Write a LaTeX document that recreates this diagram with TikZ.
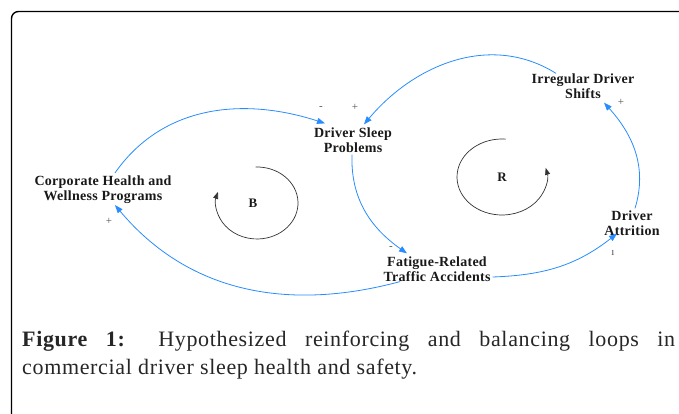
\documentclass[tikz,border=0pt]{standalone}
\usepackage{fontspec}
\setmainfont{Liberation Serif}
\newfontfamily\varfont[LetterSpace=2]{Liberation Serif}
\newfontfamily\capfont[LetterSpace=3]{Liberation Serif}
\usetikzlibrary{arrows.meta,calc}
\definecolor{linkblue}{RGB}{40,140,255}
\definecolor{txt}{RGB}{25,25,25}
\definecolor{polgray}{RGB}{80,80,80}
\begin{document}
\begin{tikzpicture}[x=1pt,y=1pt,
  var/.style={font=\varfont\bfseries\fontsize{14}{15}\selectfont, text=txt, align=center, inner sep=2pt},
  conn/.style={draw=linkblue, line width=0.8pt, -{Triangle[length=8pt,width=6pt]}},
  pol/.style={font=\fontsize{11}{11}\selectfont, text=polgray, inner sep=0pt},
  loopline/.style={draw=black!80, line width=0.7pt, -{Triangle[length=7pt,width=5pt]}},
  looplabel/.style={font=\bfseries\fontsize{13}{13}\selectfont, text=txt, inner sep=1pt}
]
\useasboundingbox (0,0) rectangle (679,414);
\begin{scope}
  \clip (0,0) rectangle (679,414);
  \draw[line width=1.4pt, rounded corners=7pt] (11.5,-30) rectangle (720,402.5);
\end{scope}

% variables
\node[var] (corp) at (103,224) {Corporate Health and\\Wellness Programs};
\node[var] (dsp)  at (353,274) {Driver Sleep\\Problems};
\node[var] (irr)  at (583,328) {Irregular Driver\\Shifts};
\node[var] (attr) at (632,191) {Driver\\Attrition};
\node[var] (fat)  at (437,145) {Fatigue-Related\\Traffic Accidents};

% causal links
\draw[conn] ([shift={(12,1)}]corp.north) to[out=55,in=162] ([shift={(-28,2)}]dsp.north);
\draw[conn] ([shift={(-27,-2)}]irr.north) to[out=148,in=50] ([shift={(11,1)}]dsp.north);
\draw[conn] ([shift={(3,0)}]attr.north) to[out=73,in=-48] ([shift={(21,-2)}]irr.south);
\draw[conn] ([shift={(-1,0)}]dsp.south) to[out=-92,in=145] ([shift={(-30,1)}]fat.north);
\draw[conn] ([yshift=-8]fat.east) to[out=2,in=-142] ([shift={(-15,4)}]attr.south);
\draw[conn] ([shift={(-37,2)}]fat.south) to[out=195,in=-50] ([shift={(12,1)}]corp.south);

% polarity marks
\node[pol] (p1) at (321,306) {-};
\node[pol] (p2) at (355,307) {+};
\node[pol] (p3) at (621,312) {+};
\node[pol] (p4) at (109,193) {+};
\node[pol] (p5) at (613,161) {ı};
\node[pol] (p6) at (391,166) {-};

% loop identifiers
\node[looplabel] (bl) at (253,211) {B};
\node[looplabel] (rl) at (502,237) {R};
\draw[loopline] ([shift={(92:41 and 36)}]bl.center) ++(4,0)
  arc[start angle=92, end angle=-198, x radius=41, y radius=36];
\draw[loopline] ([shift={(85:45 and 38)}]rl.center)
  arc[start angle=85, end angle=374, x radius=45, y radius=38];

% caption
\node[anchor=north west, inner sep=0pt, text width=653pt, align=justify,
  font=\capfont\fontsize{22}{28}\selectfont, text=black!85] (cap) at (22,83)
  {\textbf{Figure 1:} Hypothesized reinforcing and balancing loops in\linebreak commercial driver sleep health and safety.};
\end{tikzpicture}
\end{document}
